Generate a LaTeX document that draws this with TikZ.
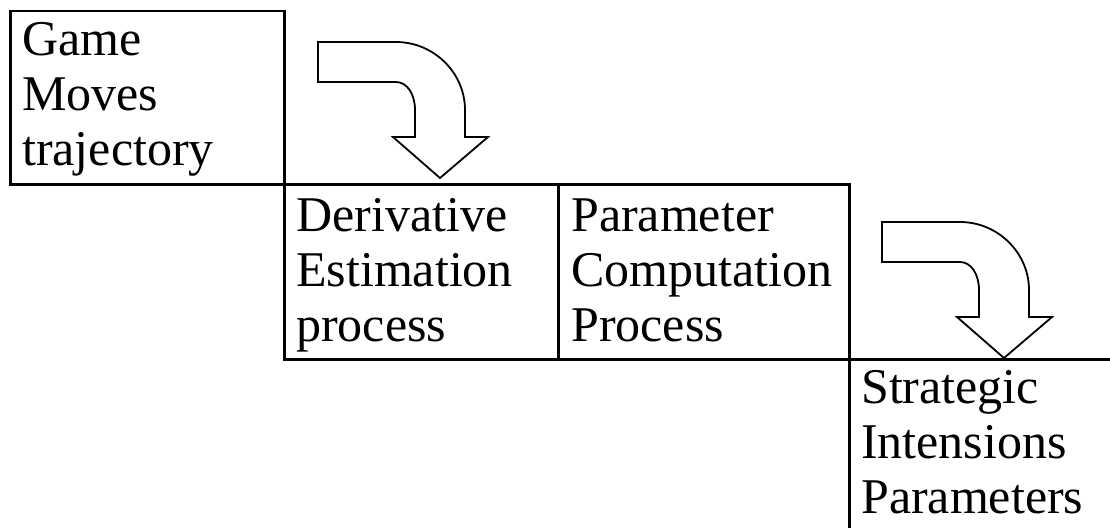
\documentclass[tikz,border=0pt]{standalone}
\usepackage{fontspec}
\setmainfont{Liberation Serif}
\usepackage{tikz}

\begin{document}
\begin{tikzpicture}[x=1pt, y=-1pt]
    \tikzstyle{cell} = [draw, line width=2.5pt, rectangle, anchor=north west, inner sep=0pt]
    \tikzstyle{words} = [anchor=base west, align=left, inner sep=0pt, font=\fontsize{50}{55}\selectfont]
    \tikzstyle{bendarrow} = [draw, line width=1.8pt, line join=miter, fill=white]

    \useasboundingbox (0,0) rectangle (1110,527);
    \clip (0,0) rectangle (1110,527);

    % Boxes, each one hanging from the corner of the one before
    \node[cell, minimum width=274pt, minimum height=173pt] (gamebox) at (9,10) {};
    \node[cell, minimum width=274pt, minimum height=175pt] (derivbox) at (283,183) {};
    \node[cell, minimum width=291pt, minimum height=175pt] (parambox) at (557,183) {};
    % last box runs off the page
    \node[cell, minimum width=320pt, minimum height=220pt] (stratbox) at (848,358) {};

    % Box texts (base = baseline of the last line)
    \node[words] (game) at (22,165) {Game\\Moves\\trajectory};
    \node[words] (deriv) at (296,341) {Derivative\\Estimation\\process};
    \node[words] (param) at (571,341) {Parameter\\Computation\\Process};
    \node[words] (strat) at (861,513) {Strategic\\Intensions\\Parameters};

    % Bent block arrows
    \coordinate (bendA) at (318,42);
    \coordinate (bendB) at (882,222);
    \foreach \c in {bendA,bendB} {
        \path[bendarrow, shift={(\c)}]
            (0,0) -- (78,0)
            .. controls (116,0) and (147,31) .. (147,68)
            -- (147,95) -- (170,95) -- (122,136) -- (75,95) -- (97,95)
            -- (97,68)
            .. controls (97,52) and (89,40) .. (78,40)
            -- (0,40) -- cycle;
    }
\end{tikzpicture}
\end{document}
